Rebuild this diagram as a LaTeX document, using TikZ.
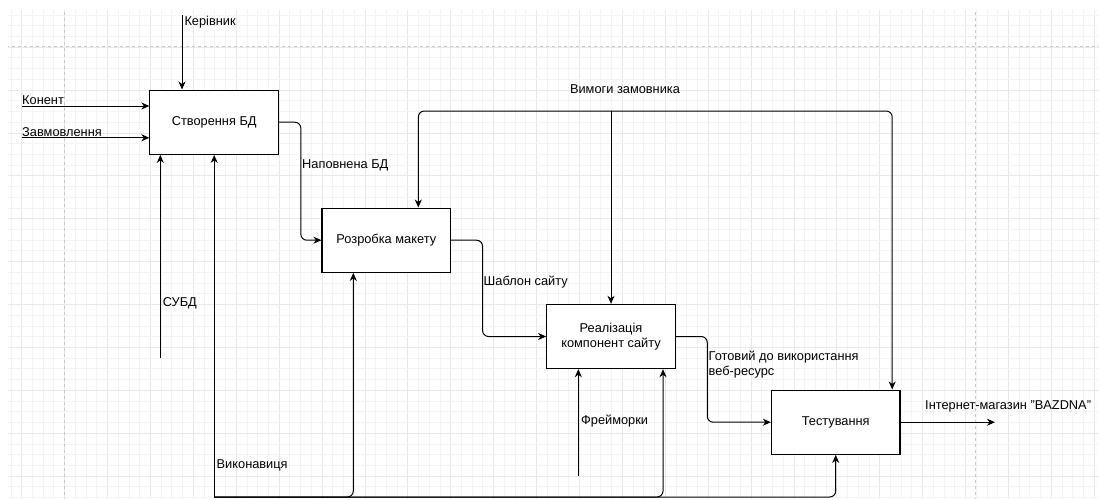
\documentclass[tikz,border=0pt]{standalone}
\usepackage{fontspec}
\setmainfont{Liberation Sans}
\usetikzlibrary{arrows.meta}
\definecolor{sitka}{HTML}{F4F4F4}
\definecolor{sitkaG}{HTML}{E8E8E8}
\definecolor{rozryv}{HTML}{C8C8C8}
\tikzset{
  blok/.style={draw, line width=1.1pt, fill=white, minimum width=128.6pt, minimum height=64.3pt, align=center, inner sep=2pt},
  potik/.style={line width=1pt, rounded corners=6pt, -{Stealth[length=8pt,width=7pt,inset=2.5pt]}},
  mitka/.style={anchor=west, inner sep=0pt}
}
\begin{document}
\begin{tikzpicture}[x=1pt,y=-1pt,font=\fontsize{12.8}{15.5}\selectfont]
    \useasboundingbox (0,0) rectangle (1099,499);
    \begin{scope}
      \clip (8,10) rectangle (1099,499);
      \foreach \k in {-1,...,100} {
        \pgfmathtruncatemacro{\m}{mod(\k+400,4)}
        \ifnum\m=0 \draw[sitkaG, line width=0.8pt] (21.7+10.725*\k,0) -- ++(0,499);
        \else \draw[sitka, line width=0.8pt] (21.7+10.725*\k,0) -- ++(0,499); \fi
      }
      \foreach \k in {-8,...,38} {
        \pgfmathtruncatemacro{\m}{mod(\k+400,4)}
        \ifnum\m=0 \draw[sitkaG, line width=0.8pt] (0,90+10.725*\k) -- ++(1099,0);
        \else \draw[sitka, line width=0.8pt] (0,90+10.725*\k) -- ++(1099,0); \fi
      }
      \draw[rozryv, dashed, line width=0.9pt] (64.3,0) -- ++(0,499);
      \draw[rozryv, dashed, line width=0.9pt] (975,0) -- ++(0,499);
      \draw[rozryv, dashed, line width=0.9pt] (0,46.7) -- ++(1099,0);
    \end{scope}

    \node[blok] (bd) at (214.2,122.2) {Створення БД};
    \node[blok] (maket) at (386.3,240.2) {Розробка макету};
    \node[blok] (realiz) at (611,336.5) {Реалізація\\компонент сайту};
    \node[blok] (test) at (835.7,422.2) {Тестування};

    \coordinate (kerivnyk) at (182,15);
    \coordinate (konent) at (21.7,106);
    \coordinate (zamovl) at (21.7,137.8);
    \coordinate (subd) at (160.3,358);
    \coordinate (vykon) at (214.2,497);
    \coordinate (vymogy) at (611,111);
    \coordinate (freim) at (578.3,476);
    \coordinate (vyhid) at (995,422.2);

    \draw[potik] (kerivnyk) -- (kerivnyk |- bd.north) node [mitka, pos=0.1, xshift=2pt] {Керівник};
    \draw[potik] (konent) node [mitka, anchor=south west, yshift=0.5pt] {Конент} -- (konent -| bd.west);
    \draw[potik] (zamovl) node [mitka, anchor=south west, yshift=0.5pt] {Завмовлення} -- (zamovl -| bd.west);
    \draw[potik] (subd) -- (subd |- bd.south);
    \node[mitka] (subdT) at (162.7,303.3) {СУБД};
    \draw[potik] (vykon) -- (bd.south);
    \node[mitka] (vykonT) at (216.5,465) {Виконавиця};
    \draw[potik] (vykon) -| ([xshift=-33pt]maket.south);
    \draw[potik] (vykon) -| ([xshift=52pt]realiz.south);
    \draw[potik] (vykon) -| (test.south);

    \draw[potik] (bd.east) -- ++(21.8,0) |- (maket.west);
    \node[mitka] (napovT) at (302,165) {Наповнена БД};
    \draw[potik] (maket.east) -- ++(31.4,0) |- (realiz.west);
    \node[mitka] (shablT) at (483.5,282) {Шаблон сайту};
    \draw[potik] (realiz.east) -- ++(31.4,0) |- (test.west);
    \node[mitka, align=left] (gotovT) at (708.5,364.8) {Готовий до використання\\веб-ресурс};

    \draw[potik] (vymogy) -- (realiz.north);
    \draw[potik] (vymogy) -| ([xshift=32pt]maket.north);
    \draw[potik] (vymogy) -| ([xshift=56.5pt]test.north);
    \node (vymogyT) at (625,89) {Вимоги замовника};

    \draw[potik] (freim) -- (freim |- realiz.south);
    \node[mitka] (freimT) at (581,421.5) {Фрейморки};

    \draw[potik] (test.east) -- (vyhid);
    \node[mitka] (vyhidT) at (925,406.7) {Інтернет-магазин "BAZDNA"};
\end{tikzpicture}
\end{document}
